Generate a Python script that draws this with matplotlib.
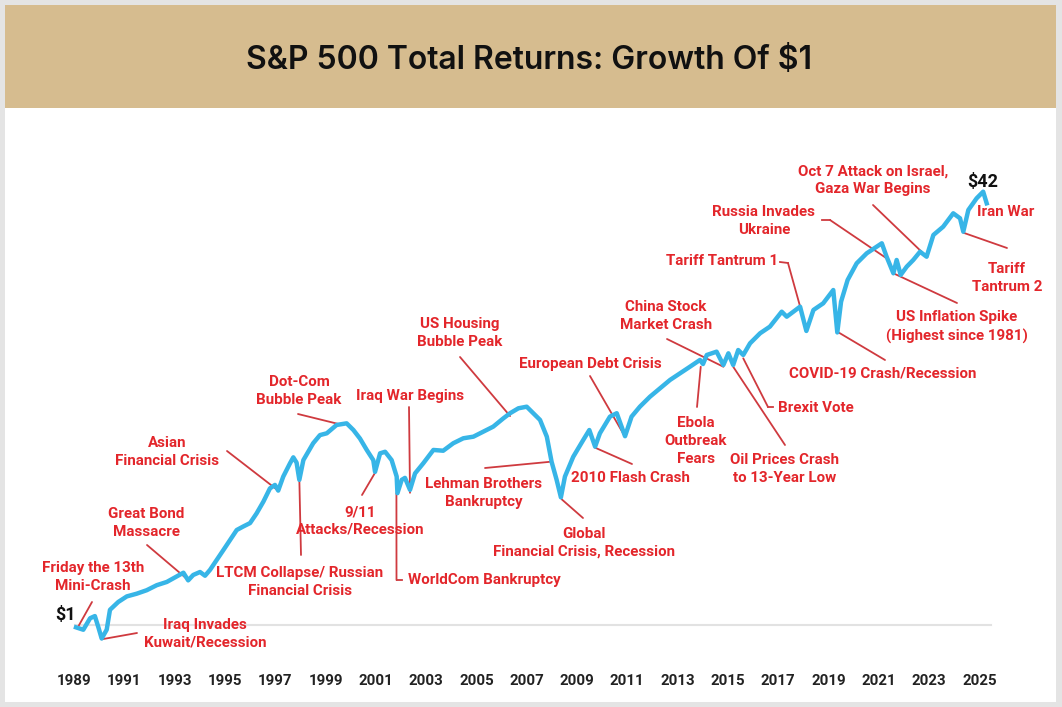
import matplotlib
matplotlib.use('Agg')
import matplotlib.pyplot as plt
from matplotlib.patches import Rectangle
from matplotlib.lines import Line2D

plt.rcParams['font.family'] = ['Roboto', 'DejaVu Sans']

# Data: growth of $1 (log scale)
years = [1989.08, 1989.37, 1989.64, 1989.83, 1989.97, 1990.10, 1990.30, 1990.43, 1990.76, 1991.10,
         1991.49, 1991.89, 1992.29, 1992.69, 1993.08, 1993.35, 1993.54, 1993.74, 1994.01, 1994.21,
         1994.41, 1994.67, 1994.94, 1995.20, 1995.47, 1995.73, 1996.00, 1996.26, 1996.53, 1996.79,
         1996.99, 1997.12, 1997.32, 1997.59, 1997.72, 1997.85, 1997.96, 1998.12, 1998.51, 1998.78,
         1999.05, 1999.44, 1999.84, 2000.11, 2000.37, 2000.64, 2000.90, 2000.97, 2001.17, 2001.37,
         2001.63, 2001.83, 2001.86, 2002.03, 2002.16, 2002.36, 2002.56, 2002.89, 2003.29, 2003.68,
         2004.08, 2004.48, 2004.88, 2005.27, 2005.67, 2006.07, 2006.34, 2006.67, 2007.00, 2007.26,
         2007.53, 2007.80, 2007.99, 2008.19, 2008.36, 2008.52, 2008.85, 2009.25, 2009.49, 2009.72,
         2009.91, 2010.31, 2010.58, 2010.91, 2011.17, 2011.50, 2011.90, 2012.30, 2012.70, 2013.10,
         2013.49, 2013.89, 2014.01, 2014.16, 2014.55, 2014.82, 2015.02, 2015.21, 2015.41, 2015.61,
         2015.88, 2016.28, 2016.67, 2017.14, 2017.34, 2017.87, 2018.12, 2018.40, 2018.79, 2019.19,
         2019.35, 2019.50, 2019.76, 2020.12, 2020.52, 2020.92, 2021.12, 2021.31, 2021.58, 2021.71,
         2021.87, 2022.11, 2022.37, 2022.64, 2022.90, 2023.17, 2023.56, 2023.96, 2024.23, 2024.36,
         2024.56, 2024.89, 2025.15, 2025.29]
values = [0.98, 0.96, 1.06, 1.08, 0.98, 0.89, 0.96, 1.14, 1.22, 1.28,
          1.31, 1.35, 1.41, 1.45, 1.52, 1.57, 1.47, 1.54, 1.58, 1.53,
          1.61, 1.75, 1.91, 2.08, 2.27, 2.34, 2.41, 2.62, 2.90, 3.25,
          3.35, 3.19, 3.60, 4.04, 4.25, 4.06, 3.50, 4.15, 4.80, 5.15,
          5.23, 5.62, 5.70, 5.38, 5.00, 4.53, 4.15, 3.75, 4.40, 4.46,
          4.15, 3.60, 3.12, 3.50, 3.56, 3.21, 3.70, 4.04, 4.53, 4.50,
          4.80, 5.01, 5.08, 5.30, 5.54, 5.95, 6.22, 6.49, 6.58, 6.22,
          5.87, 5.08, 4.09, 3.50, 3.01, 3.60, 4.27, 4.94, 5.38, 4.66,
          5.23, 6.04, 6.22, 5.10, 6.04, 6.58, 7.17, 7.71, 8.29, 8.78,
          9.29, 9.85, 9.51, 10.28, 10.58, 9.43, 10.43, 9.43, 10.73, 10.28,
          11.37, 12.40, 13.13, 14.94, 14.31, 15.60, 12.65, 15.16, 16.06, 18.01,
          12.49, 16.29, 19.64, 22.68, 24.73, 26.18, 26.96, 24.01, 20.81, 23.34,
          20.51, 22.03, 23.34, 25.07, 24.01, 28.96, 31.11, 34.92, 33.45, 29.80,
          35.93, 39.75, 42.08, 38.07]

tick_years = list(range(1989, 2026, 2))

# events: label, year, value on the line
event_labels = ['Friday the 13th\nMini-Crash', 'Iraq Invades\nKuwait/Recession', 'Great Bond\nMassacre',
                'Asian\nFinancial Crisis', 'LTCM Collapse/ Russian\nFinancial Crisis', 'Dot-Com\nBubble Peak',
                '9/11\nAttacks/Recession', 'Iraq War Begins', 'WorldCom Bankruptcy', 'US Housing\nBubble Peak',
                'Lehman Brothers\nBankruptcy', 'Global\nFinancial Crisis, Recession', '2010 Flash Crash',
                'European Debt Crisis', 'China Stock\nMarket Crash', 'Ebola\nOutbreak\nFears',
                'Oil Prices Crash\nto 13-Year Low', 'Brexit Vote', 'Tariff Tantrum 1', 'Russia Invades\nUkraine',
                'Oct 7 Attack on Israel,\nGaza War Begins', 'Tariff\nTantrum 2',
                'US Inflation Spike\n(Highest since 1981)', 'COVID-19 Crash/Recession']
event_years = [1989.13, 1990.10, 1993.54, 1997.12, 1997.96, 1999.51, 2000.97, 2002.36, 2001.82, 2006.34,
               2007.93, 2008.39, 2009.72, 2010.91, 2014.82, 2013.92, 2015.21, 2015.61, 2018.13, 2021.31,
               2022.93, 2024.36, 2021.58, 2019.35]
event_values = [0.972, 0.884, 1.475, 3.19, 3.50, 5.67, 3.72, 3.13, 3.12, 6.07,
                4.09, 2.96, 4.62, 5.08, 9.29, 9.29, 9.29, 9.99, 12.76, 23.68,
                23.89, 29.54, 20.81, 12.57]

# layout (pixels from top-left): text centre, leader waypoints
text_pos = [(93, 577), (205, 634), (146, 523), (167, 452), (300, 582), (299, 391),
            (360, 521), (410, 396), (408, 580), (460, 333), (484, 493), (584, 543),
            (630, 478), (590, 364), (666, 316), (696, 441), (785, 469), (816, 408),
            (722, 261), (764, 221), (873, 180), (1007, 278), (957, 327), (883, 373)]
leaders = [[(92, 602)], [(137, 633)], [(147, 545)], [(227, 451)], [(301, 555)], [(298, 414)],
           [(362, 495)], [(409, 407)], [(402, 580), (396.5, 580)], [(460, 357)], [(485, 468)],
           [(583, 518)], [(632, 464)], [(590, 376)], [(667, 339)], [(697, 407)], [(785, 445)],
           [(773, 407), (768, 407)], [(780, 262), (788, 263)], [(822, 220), (830, 220)],
           [(873, 205)], [(1007, 248)], [(957, 303)], [(885, 360)]]

W, H = 1062, 707
RED = '#e3262b'
LEAD = '#cf3a3f'
BLUE = '#37b5e7'
FS = 10.9


def fx(x):
    return x / W


def fy(y):
    return 1 - y / H


fig = plt.figure(figsize=(W / 100, H / 100), dpi=100)
fig.patch.set_facecolor('#e4e4e4')
fig.add_artist(Rectangle((fx(5), fy(702)), 1051 / W, 697 / H, transform=fig.transFigure,
                         facecolor='white', edgecolor='none', zorder=0))
fig.add_artist(Rectangle((fx(5), fy(108)), 1051 / W, 103 / H, transform=fig.transFigure,
                         facecolor='#d6bc8f', edgecolor='none', zorder=0))
fig.text(fx(529), fy(60), 'S&P 500 Total Returns: Growth Of $1', ha='center', va='center',
         fontsize=23, family=['Inter', 'DejaVu Sans'], weight='semibold', color='#111111')

# axes calibrated to the picture: 25.15 px per year, 266.8 px per decade, $1 at y=625
ax = fig.add_axes([0, fy(667), 1, (667 - 110) / H])
ax.set_facecolor('none')
ax.set_yscale('log')
ax.set_xlim(1989 - 74 / 25.15, 1989 + (W - 74) / 25.15)
ax.set_ylim(10 ** ((625 - 667) / 266.8), 10 ** ((625 - 110) / 266.8))
for s in ax.spines.values():
    s.set_visible(False)
ax.set_yticks([])
ax.minorticks_off()
ax.set_yticks([], minor=True)
ax.set_xticks(tick_years)
ax.set_xticklabels([str(y) for y in tick_years], fontsize=10.8, fontweight='bold', color='#222222')
ax.tick_params(axis='x', length=0, pad=5)

ax.axhline(1, xmin=fx(75), xmax=fx(991), color='#e2e2e2', lw=1.5, zorder=1)
ax.plot(years, values, color=BLUE, lw=3.2, solid_joinstyle='round', zorder=3)

for i in range(len(event_labels)):
    tx, ty = text_pos[i]
    if event_labels[i] == 'WorldCom Bankruptcy':
        fig.text(fx(tx), fy(ty), event_labels[i], ha='left', va='center', fontsize=FS,
                 weight='bold', color=RED, linespacing=1.35)
    else:
        fig.text(fx(tx), fy(ty), event_labels[i], ha='center', va='center', fontsize=FS,
                 weight='bold', color=RED, linespacing=1.35)
    pts = leaders[i]
    for a, b in zip(pts[:-1], pts[1:]):
        fig.add_artist(Line2D([fx(a[0]), fx(b[0])], [fy(a[1]), fy(b[1])], transform=fig.transFigure,
                              color=LEAD, lw=1.3))
    lx, ly = pts[-1]
    ax.annotate('', xy=(event_years[i], event_values[i]), xytext=(fx(lx), fy(ly)),
                textcoords='figure fraction',
                arrowprops=dict(arrowstyle='-', color=LEAD, lw=1.3, shrinkA=0, shrinkB=0), zorder=2)

fig.text(fx(1006), fy(212), 'Iran War', ha='center', va='center', fontsize=FS, weight='bold', color=RED)
fig.text(fx(66), fy(615), '$1', ha='center', va='center', fontsize=13, weight='bold', color='#111111')
fig.text(fx(983), fy(182), '$42', ha='center', va='center', fontsize=13, weight='bold', color='#111111')

fig.savefig('out.png', dpi=100, facecolor=fig.get_facecolor())
